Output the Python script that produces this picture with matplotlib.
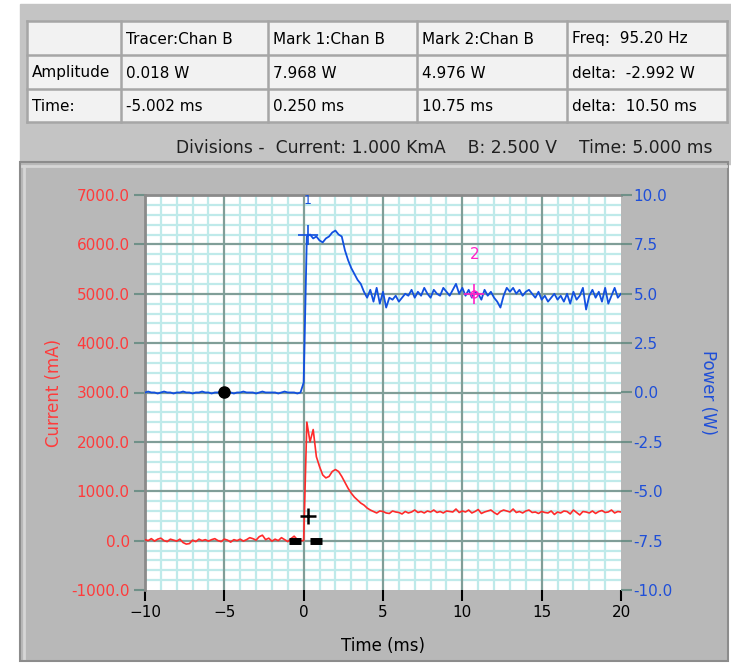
import numpy as np
import matplotlib
matplotlib.use("Agg")
import matplotlib.pyplot as plt
from matplotlib.patches import Rectangle
from matplotlib.ticker import MultipleLocator, FormatStrFormatter

# sampled traces, one value every 0.2 ms from -10 ms to 20 ms
t_start, t_stop = -10.0, 20.0
current_ma = [
    20, 0, 40, -10, 30, 50, 0, -20, 30, 10,
    -10, 30, -40, -70, -60, 10, -20, 30, 0, 20,
    -10, 20, 40, 0, -20, 30, 10, -30, 20, 0,
    30, -10, 20, 60, 40, 10, 80, 110, 20, 50,
    -10, 30, 0, 60, 20, -20, 40, 90, 20, 0,
    0, 2400, 2000, 2250, 1700, 1500, 1330, 1270, 1300, 1400,
    1440, 1400, 1300, 1180, 1060, 960, 880, 820, 760, 720,
    660, 620, 590, 560, 600, 590, 560, 550, 600, 580,
    570, 540, 590, 560, 580, 620, 570, 590, 560, 600,
    580, 620, 570, 590, 560, 600, 590, 580, 640, 570,
    600, 580, 620, 560, 590, 630, 550, 580, 600, 620,
    570, 530, 590, 620, 600, 580, 640, 570, 590, 560,
    600, 620, 570, 580, 550, 590, 570, 560, 600, 530,
    580, 560, 600, 590, 540, 620, 570, 520, 590, 580,
    560, 600, 550, 590, 610, 570, 580, 620, 560, 590,
    580,
]
power_w = [
    0, 0.05, 0, 0, -0.05, 0, 0.05, 0, 0, -0.05,
    0, 0, 0.05, 0, 0, -0.05, 0, 0, 0.05, 0,
    0, -0.05, 0, 0, 0.05, 0, 0, 0, -0.05, 0,
    0, 0.05, 0, 0, 0, -0.05, 0, 0.05, 0, 0,
    0, 0, -0.05, 0, 0.05, 0, 0, 0, -0.05, 0,
    0.5, 7.9, 8.0, 7.8, 7.9, 7.7, 7.6, 7.8, 7.9, 8.1,
    8.2, 8.0, 7.9, 7.2, 6.7, 6.3, 6.0, 5.7, 5.5, 5.1,
    4.8, 5.2, 4.6, 5.3, 4.5, 5.1, 4.3, 4.8, 4.7, 4.9,
    4.6, 4.8, 5.0, 4.9, 5.2, 4.8, 5.1, 4.9, 5.3, 5.0,
    4.8, 5.2, 5.0, 4.9, 5.3, 5.1, 4.9, 5.2, 5.5, 5.0,
    5.3, 4.9, 5.2, 4.8, 5.1, 5.0, 4.7, 5.2, 4.9, 5.1,
    4.8, 4.6, 4.3, 4.9, 5.3, 5.1, 5.3, 5.0, 5.2, 4.9,
    5.1, 5.2, 5.0, 4.8, 5.1, 4.7, 4.9, 4.6, 4.8, 5.0,
    4.7, 4.9, 4.6, 5.0, 4.5, 5.1, 4.7, 4.9, 5.3, 4.2,
    4.9, 5.2, 4.8, 5.1, 4.6, 5.3, 4.5, 4.9, 5.3, 4.8,
    5.0,
]
t = np.linspace(t_start, t_stop, len(current_ma))

# cursors
tracer = (-5.002, 0.018)
mark1 = (0.250, 7.968)
mark2 = (10.75, 4.976)
cur_mark = (0.25, 500)
cur_dashes_t = [-0.55, 0.75]

# readout table
table_rows = [
    ["", "Tracer:Chan B", "Mark 1:Chan B", "Mark 2:Chan B", "Freq:  95.20 Hz"],
    ["Amplitude", "0.018 W", "7.968 W", "4.976 W", "delta:  -2.992 W"],
    ["Time:", "-5.002 ms", "0.250 ms", "10.75 ms", "delta:  10.50 ms"],
]
divisions = "Divisions -  Current: 1.000 KmA    B: 2.500 V    Time: 5.000 ms"

W, H = 731, 663
fig = plt.figure(figsize=(W / 100, H / 100), dpi=100, facecolor="white")

# panel backgrounds in pixel coords
bg = fig.add_axes([0, 0, 1, 1], zorder=-5)
bg.set_xlim(0, W)
bg.set_ylim(H, 0)
bg.axis("off")
bg.add_patch(Rectangle((20, 4), 711, 160, color="#c4c4c4"))
bg.add_patch(Rectangle((20, 162), 708, 499, facecolor="#b8b8b8", edgecolor="#8c8c8c", lw=1.5))
bg.plot([22, 726], [166, 166], color="#d6d6d6", lw=2)
bg.plot([24, 24], [166, 658], color="#d6d6d6", lw=2)

col_x = [27, 121, 268, 417, 567, 727]
row_y = [21, 55, 89, 122]
bg.add_patch(Rectangle((col_x[0], row_y[0]), col_x[-1] - col_x[0], row_y[-1] - row_y[0],
                       facecolor="#f2f2f2", edgecolor="none"))
for x in col_x:
    bg.plot([x, x], [row_y[0], row_y[-1]], color="#a6a6a6", lw=1.8)
for y in row_y:
    bg.plot([col_x[0], col_x[-1]], [y, y], color="#a6a6a6", lw=1.8)
for r, row in enumerate(table_rows):
    for c, txt in enumerate(row):
        bg.text(col_x[c] + 5, (row_y[r] + row_y[r + 1]) / 2 + 1, txt,
                ha="left", va="center", fontsize=11, color="black")
bg.text(176, 148, divisions, ha="left", va="center", fontsize=12.3, color="#202020")

# main plot
ax = fig.add_axes([145 / W, (H - 590) / H, 476 / W, 395 / H])
ax.set_facecolor("white")
ax.set_xlim(-10, 20)
ax.set_ylim(-1000, 7000)
ax.xaxis.set_major_locator(MultipleLocator(5))
ax.xaxis.set_minor_locator(MultipleLocator(1))
ax.yaxis.set_major_locator(MultipleLocator(1000))
ax.yaxis.set_minor_locator(MultipleLocator(200))
ax.yaxis.set_major_formatter(FormatStrFormatter("%.1f"))
ax.grid(which="minor", color="#bfeaea", lw=1.6)
ax.set_axisbelow(True)
# major grid on top of the minor one
for xv in ax.get_xticks():
    if -10 < xv < 20:
        ax.axvline(xv, color="#809e98", lw=1.6, zorder=1)
for yv in ax.get_yticks():
    if -1000 < yv < 7000:
        ax.axhline(yv, color="#809e98", lw=1.6, zorder=1)
ax.tick_params(axis="x", which="minor", length=0)
ax.tick_params(axis="y", which="minor", length=0)
ax.tick_params(axis="x", which="major", length=8, width=1.5, color="black",
               labelsize=11, pad=3)
ax.tick_params(axis="y", which="major", length=8, width=1.5, color="#6f9088",
               labelcolor="#ff3b3b", labelsize=11, pad=3)
for side in ["bottom", "right"]:
    ax.spines[side].set_visible(False)
for side in ["top", "left"]:
    ax.spines[side].set_color("#8a8a8a")
    ax.spines[side].set_linewidth(2)

ax.plot(t, current_ma, color="#ff2a2a", lw=1.2, zorder=3)
ax.plot(*cur_mark, marker="+", color="black", ms=11, mew=1.8, zorder=5)
ax.plot(cur_dashes_t, [0, 0], ls="none", marker="_", color="black", ms=8, mew=5, zorder=5)

ax.set_xlabel("Time (ms)", fontsize=12, labelpad=12)
ax.set_ylabel("Current (mA)", fontsize=12, color="#ff3b3b", labelpad=6)

ax2 = ax.twinx()
ax2.set_ylim(-10, 10)
ax2.yaxis.set_major_locator(MultipleLocator(2.5))
ax2.yaxis.set_major_formatter(FormatStrFormatter("%.1f"))
ax2.tick_params(axis="y", length=8, width=1.5, color="#6f9088",
                labelcolor="#1f4fd8", labelsize=11, pad=1)
for side in ax2.spines:
    ax2.spines[side].set_visible(False)
ax2.plot(t, power_w, color="#1150e0", lw=1.3, zorder=3)
ax2.plot(*tracer, marker="o", color="black", ms=8, zorder=5)
ax2.plot(*mark1, marker="+", color="#1150e0", ms=14, mew=1.2, zorder=5)
ax2.text(mark1[0], 9.7, "1", color="#1150e0", fontsize=9, ha="center", va="center")
ax2.plot(*mark2, marker="+", color="#ff22c8", ms=14, mew=1.2, zorder=5)
ax2.plot(*mark2, marker="o", mfc="none", mec="#ff22c8", ms=5, mew=1, zorder=5)
ax2.text(mark2[0], 7.0, "2", color="#ff22c8", fontsize=11, ha="center", va="center")
ax2.set_ylabel("Power (W)", fontsize=12, color="#1f4fd8", rotation=270, labelpad=32)

fig.savefig("out.png", dpi=100, facecolor="white")
